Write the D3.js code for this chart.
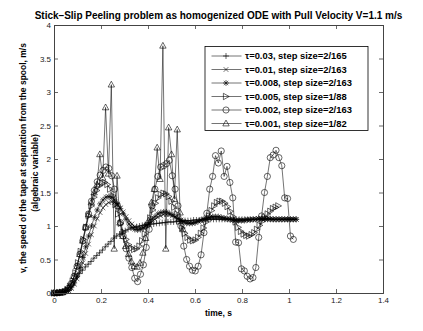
<!DOCTYPE html>
<html><head><meta charset="utf-8">
<script src="https://cdn.jsdelivr.net/npm/d3@7"></script>
<style>
body{margin:0;background:#fff;}
svg{display:block;}
text{font-family:"Liberation Sans",Arial,Helvetica,sans-serif;}
</style></head>
<body><svg id="c" width="423" height="331"></svg>
<script>
// ---------------- data ----------------
const chartTitle = "Stick\u2013Slip Peeling problem as homogenized ODE with Pull Velocity V=1.1 m/s";
const xLabel = "time, s";
const yLabelLines = ["v, the speed of the tape at separation from the spool, m/s", "(algebraic variable)"];
const xTicks = [0, 0.2, 0.4, 0.6, 0.8, 1, 1.2, 1.4];
const yTicks = [0, 0.5, 1, 1.5, 2, 2.5, 3, 3.5, 4];
const legendLabels = ["\u03c4=0.03, step size=2/165", "\u03c4=0.01, step size=2/163", "\u03c4=0.008, step size=2/163",
  "\u03c4=0.005, step size=1/88", "\u03c4=0.002, step size=2/163", "\u03c4=0.001, step size=1/82"];
const markerTypes = ["plus", "x", "star", "tright", "circle", "tup"];
const stepSizes = [2/165, 2/163, 2/163, 1/88, 2/163, 1/82];

const vTau003 = [0,0,0.005,0.015,0.04,0.08,0.13,0.18,0.24,0.29,
0.34,0.39,0.43,0.47,0.52,0.56,0.60,0.64,0.69,0.73,
0.77,0.82,0.85,0.88,0.91,0.93,0.95,0.97,0.98,0.99,
1.00,1.01,1.02,1.02,1.03,1.03,1.04,1.04,1.05,1.05,
1.06,1.06,1.06,1.07,1.07,1.07,1.08,1.08,1.08,1.09,
1.09,1.09,1.09,1.10,1.10,1.10,1.10,1.10,1.10,1.10,
1.10,1.10,1.10,1.10,1.10,1.10,1.10,1.10,1.10,1.10,
1.10,1.10,1.10,1.10,1.10,1.10,1.10,1.10,1.10,1.10,
1.10,1.10,1.10,1.10,1.10,1.10];
const vTau001 = [0,0,0.005,0.01,0.02,0.035,0.07,0.13,0.21,0.32,
0.45,0.59,0.73,0.87,1.00,1.11,1.20,1.27,1.32,1.35,
1.36,1.35,1.32,1.27,1.21,1.14,1.08,1.03,0.99,0.97,
0.97,0.98,1.00,1.03,1.07,1.10,1.13,1.15,1.17,1.17,
1.17,1.15,1.13,1.11,1.09,1.07,1.06,1.05,1.05,1.06,
1.07,1.08,1.09,1.10,1.11,1.12,1.12,1.12,1.11,1.11,
1.10,1.10,1.09,1.09,1.09,1.09,1.09,1.10,1.10,1.10,
1.10,1.11,1.11,1.11,1.10,1.10,1.10,1.10,1.10,1.10,
1.10,1.10,1.10,1.10,1.10];
const vTau0008 = [0,0,0.005,0.01,0.02,0.04,0.08,0.15,0.25,0.38,
0.53,0.69,0.85,1.00,1.13,1.24,1.33,1.39,1.43,1.44,
1.43,1.39,1.33,1.26,1.18,1.10,1.03,0.98,0.95,0.94,
0.95,0.97,1.01,1.05,1.10,1.14,1.18,1.20,1.21,1.21,
1.19,1.17,1.14,1.11,1.08,1.06,1.04,1.04,1.04,1.05,
1.07,1.09,1.11,1.12,1.13,1.14,1.14,1.14,1.13,1.12,
1.11,1.10,1.09,1.08,1.08,1.08,1.08,1.09,1.09,1.10,
1.10,1.11,1.11,1.11,1.11,1.11,1.10,1.10,1.10,1.10,
1.10,1.10,1.10,1.10,1.10];
const vTau0005 = [0,0,0.005,0.01,0.02,0.05,0.10,0.18,0.30,0.45,
0.62,0.80,0.98,1.15,1.30,1.43,1.53,1.60,1.64,1.65,
1.62,1.55,1.45,1.32,1.18,1.04,0.91,0.80,0.72,0.67,
0.65,0.66,0.70,0.78,0.88,1.00,1.12,1.24,1.34,1.42,
1.47,1.49,1.48,1.44,1.37,1.28,1.18,1.07,0.97,0.89,
0.83,0.79,0.78,0.79,0.83,0.89,0.97,1.06,1.15,1.23,
1.30,1.35,1.37,1.37,1.34,1.29,1.22,1.14,1.06,0.98,
0.92,0.88,0.86,0.85,0.87,0.90,0.95,1.01,1.07,1.13,
1.18,1.22,1.26,1.28,1.30];
const vTau0002 = [0,0,0.005,0.01,0.03,0.07,0.14,0.25,0.40,0.58,
0.78,0.98,1.18,1.37,1.53,1.66,1.76,1.83,1.88,1.86,
1.75,1.55,1.30,1.05,0.85,0.66,0.52,0.38,0.22,0.17,
0.28,0.42,0.68,0.95,1.30,1.55,1.74,1.88,1.90,1.93,
1.98,1.75,1.55,1.30,1.00,0.70,0.50,0.40,0.34,0.33,
0.40,0.57,0.90,1.19,1.55,1.74,2.05,1.94,2.12,1.74,
1.89,1.65,1.42,0.76,0.75,0.36,0.33,0.25,0.21,0.23,
0.38,0.83,1.15,1.50,1.74,2.02,2.06,2.13,2.02,1.90,
1.42,1.41,0.85,0.80];
const vTau0001 = [0,0,0.005,0.01,0.03,0.07,0.14,0.25,0.40,0.58,
0.78,0.98,1.17,1.35,1.50,1.62,2.07,1.72,2.77,1.78,
3.11,0.66,1.75,1.05,0.85,0.70,0.58,0.47,0.40,0.39,
0.45,0.60,0.82,1.08,1.35,1.55,2.17,1.70,3.69,0.66,
2.47,2.07,1.40,2.44,1.20,0.95];
const seriesValues = [vTau003, vTau001, vTau0008, vTau0005, vTau0002, vTau0001];

// ---------------- layout ----------------
const svg = d3.select("#c");
const xs = d3.scaleLinear().domain([0, 1.4]).range([54, 383]);
const ys = d3.scaleLinear().domain([0, 4]).range([293, 25]);
const axisColor = "#444";

function markerPath(type) {
  switch (type) {
    case "plus": return "M-3,0H3M0,-3V3";
    case "x": return "M-2.3,-2.3L2.3,2.3M-2.3,2.3L2.3,-2.3";
    case "star": return "M-3,0H3M0,-3V3M-2.2,-2.2L2.2,2.2M-2.2,2.2L2.2,-2.2";
    case "tright": return "M-2.6,-3.2L3.2,0L-2.6,3.2Z";
    case "tup": return "M0,-3.4L3.2,2.4L-3.2,2.4Z";
  }
  return null;
}
function drawMarker(g, type, cx, cy) {
  if (type === "circle") {
    g.append("circle").attr("cx", cx).attr("cy", cy).attr("r", 3.1)
      .attr("fill", "none").attr("stroke", "#000").attr("stroke-width", 0.6);
  } else {
    g.append("path").attr("d", markerPath(type)).attr("transform", `translate(${cx},${cy})`)
      .attr("fill", "none").attr("stroke", "#000").attr("stroke-width", 0.6);
  }
}

svg.append("rect").attr("x", 54).attr("y", 25).attr("width", 329).attr("height", 268)
  .attr("fill", "#fff").attr("stroke", "none");

const plot = svg.append("g");
const lineGen = d3.line().x(d => xs(d[0])).y(d => ys(d[1]));
seriesValues.forEach((vals, si) => {
  const pts = vals.map((v, i) => [i * stepSizes[si], v]);
  const g = plot.append("g");
  g.append("path").datum(pts).attr("d", lineGen).attr("fill", "none")
    .attr("stroke", "#000").attr("stroke-width", 0.55);
  pts.forEach(p => drawMarker(g, markerTypes[si], xs(p[0]), ys(p[1])));
});

const fmt = d => d3.format("")(d);
const ax = svg.append("g").attr("class", "axes");
ax.append("g").attr("transform", "translate(0,293)")
  .call(d3.axisBottom(xs).tickValues(xTicks).tickSize(-4).tickPadding(4).tickFormat(fmt));
ax.append("g").attr("transform", "translate(0,25)")
  .call(d3.axisTop(xs).tickValues(xTicks).tickSize(-4).tickFormat(""));
ax.append("g").attr("transform", "translate(54,0)")
  .call(d3.axisLeft(ys).tickValues(yTicks).tickSize(-4).tickPadding(3).tickFormat(fmt));
ax.append("g").attr("transform", "translate(383,0)")
  .call(d3.axisRight(ys).tickValues(yTicks).tickSize(-4).tickFormat(""));
ax.selectAll(".domain").attr("stroke", axisColor).attr("stroke-width", 1);
ax.selectAll(".tick line").attr("stroke", axisColor).attr("stroke-width", 0.8);
ax.selectAll(".tick text").attr("font-size", 8).attr("fill", "#222")
  .attr("font-family", "'Liberation Sans',Arial,sans-serif");

svg.append("text").attr("x", 218.5).attr("y", 19).attr("text-anchor", "middle")
  .attr("font-size", 10).attr("font-weight", "bold").text(chartTitle);
svg.append("text").attr("x", 218.5).attr("y", 316).attr("text-anchor", "middle")
  .attr("font-size", 8.5).attr("font-weight", "bold").text(xLabel);
svg.append("text").attr("transform", "translate(26,158) rotate(-90)").attr("text-anchor", "middle")
  .attr("font-size", 8.5).attr("font-weight", "bold").text(yLabelLines[0]);
svg.append("text").attr("transform", "translate(38,173) rotate(-90)").attr("text-anchor", "middle")
  .attr("font-size", 8.5).attr("font-weight", "bold").text(yLabelLines[1]);

const lg = svg.append("g");
lg.append("rect").attr("x", 205).attr("y", 46.5).attr("width", 163).attr("height", 84)
  .attr("fill", "#fff").attr("stroke", "#000").attr("stroke-width", 0.8);
legendLabels.forEach((lab, i) => {
  const ry = 56 + i * 13.5;
  lg.append("line").attr("x1", 211.5).attr("x2", 241.5).attr("y1", ry).attr("y2", ry)
    .attr("stroke", "#000").attr("stroke-width", 0.55);
  drawMarker(lg, markerTypes[i], 226, ry);
  lg.append("text").attr("x", 245).attr("y", ry + 3).attr("font-size", 9.4).attr("font-weight", "bold")
    .attr("font-family", "'Liberation Mono','Courier New',monospace").text(lab);
});
</script></body></html>
